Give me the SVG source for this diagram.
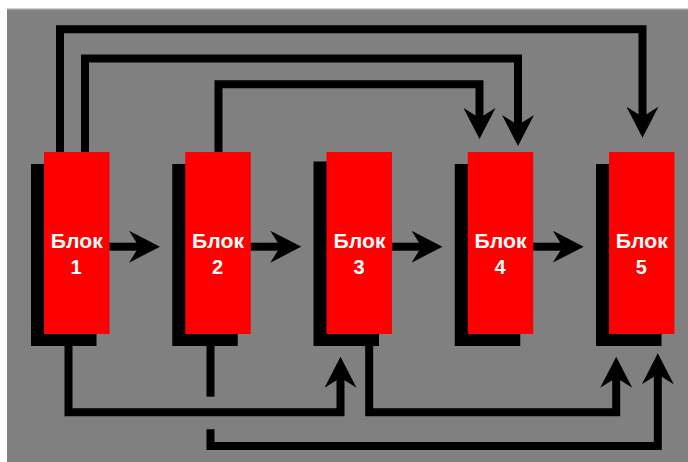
<svg xmlns="http://www.w3.org/2000/svg" width="688" height="462" viewBox="0 0 688 462">
<style>
.bg{fill:#808080}
.blk{fill:#ff0000}
.sh{fill:#000000}
.lbl{font-family:"Liberation Sans",Arial,sans-serif;font-weight:bold;font-size:20px;fill:#ffffff;text-anchor:middle}
.ln{fill:none;stroke:#000000;stroke-width:8;stroke-linejoin:miter;stroke-linecap:butt}
.arr{marker-end:url(#ah)}
</style>
<defs>
<marker id="ah" viewBox="0 0 31 32" refX="10" refY="16" markerWidth="31" markerHeight="32" markerUnits="userSpaceOnUse" orient="auto">
<path d="M31,16 L0,0 L10,16 L0,32 Z" fill="#000000"/>
</marker>
</defs>
<rect x="0" y="0" width="688" height="462" fill="#ffffff"/>
<rect x="7" y="8" width="681" height="1.3" fill="#d4d0c8"/>
<rect class="bg" x="7" y="9.3" width="681" height="452.7"/>

<g id="block1">
<rect class="sh" x="31" y="164" width="65.5" height="182"/>
<rect class="blk" x="44" y="152" width="65.5" height="182"/>
<text class="lbl" x="76.75" y="248.3" textLength="52" lengthAdjust="spacingAndGlyphs">Блок</text>
<text class="lbl" x="76" y="274.3">1</text>
</g>
<g id="block2">
<rect class="sh" x="172.25" y="164" width="65.5" height="182"/>
<rect class="blk" x="185.25" y="152" width="65.5" height="182"/>
<text class="lbl" x="218" y="248.3" textLength="52" lengthAdjust="spacingAndGlyphs">Блок</text>
<text class="lbl" x="217.5" y="274.3">2</text>
</g>
<g id="block3">
<rect class="sh" x="313.5" y="161.5" width="65.5" height="184.5"/>
<rect class="blk" x="326.5" y="152" width="65.5" height="182"/>
<text class="lbl" x="359.5" y="248.3" textLength="52" lengthAdjust="spacingAndGlyphs">Блок</text>
<text class="lbl" x="359" y="274.3">3</text>
</g>
<g id="block4">
<rect class="sh" x="454.75" y="164" width="65.5" height="182"/>
<rect class="blk" x="467.75" y="152" width="65.5" height="182"/>
<text class="lbl" x="500.5" y="248.3" textLength="52" lengthAdjust="spacingAndGlyphs">Блок</text>
<text class="lbl" x="500" y="274.3">4</text>
</g>
<g id="block5">
<rect class="sh" x="596" y="164" width="65.5" height="182"/>
<rect class="blk" x="609" y="152" width="65.5" height="182"/>
<text class="lbl" x="641.75" y="248.3" textLength="52" lengthAdjust="spacingAndGlyphs">Блок</text>
<text class="lbl" x="641.25" y="274.3">5</text>
</g>

<g id="connectors">
<path class="ln arr" d="M109.5,246.7 H139"/>
<path class="ln arr" d="M250.75,246.7 H280.25"/>
<path class="ln arr" d="M392,246.7 H421.5"/>
<path class="ln arr" d="M533.25,246.7 H562.75"/>

<path class="ln arr" d="M60,152 V29.3 H642.5 V116.7"/>
<path class="ln arr" d="M85,152 V58.5 H518 V125"/>
<path class="ln arr" d="M218.5,152 V84.2 H479.5 V118"/>

<path class="ln arr" d="M68.5,346 V412.2 H340.5 V377.7"/>
<path class="ln" d="M210.5,346 V396.7"/>
<path class="ln arr" d="M210.5,429.3 V446 H657.8 V374.3"/>
<path class="ln arr" d="M369.2,346 V412.2 H616.2 V377.7"/>
</g>
</svg>
